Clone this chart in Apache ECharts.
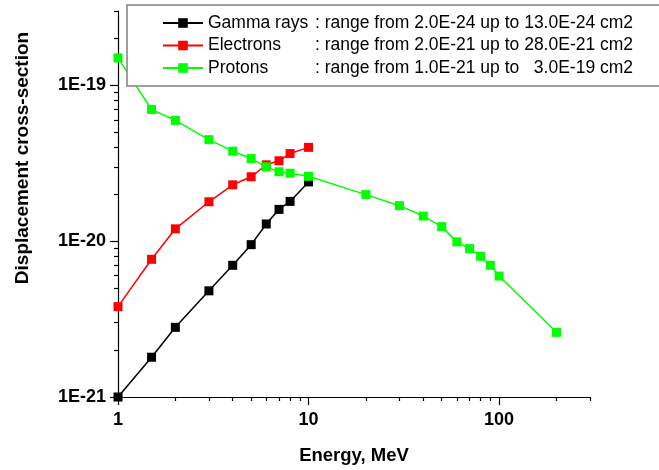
<!DOCTYPE html>
<html><head><meta charset="utf-8">
<script src="https://cdn.jsdelivr.net/npm/echarts@6/dist/echarts.min.js"></script>
<style>html,body{margin:0;padding:0;background:#fff}#c{width:659px;height:470px}</style>
</head><body><div id="c"></div>
<script>
// Data (energy in MeV, cross-section in cm2)
const energyGamma = [1, 1.5, 2, 3, 4, 5, 6, 7, 8, 10];
const gammaRays = [1.0e-21, 1.8e-21, 2.8e-21, 4.8e-21, 7.0e-21, 9.5e-21, 1.29e-20, 1.6e-20, 1.8e-20, 2.4e-20];
const energyElectrons = [1, 1.5, 2, 3, 4, 5, 6, 7, 8, 10];
const electrons = [3.8e-21, 7.65e-21, 1.2e-20, 1.79e-20, 2.3e-20, 2.59e-20, 3.09e-20, 3.28e-20, 3.65e-20, 4.0e-20];
const energyProtons = [1, 1.5, 2, 3, 4, 5, 6, 7, 8, 10, 20, 30, 40, 50, 60, 70, 80, 90, 100, 200];
const protons = [1.5e-19, 7.0e-20, 5.96e-20, 4.48e-20, 3.78e-20, 3.39e-20, 3.0e-20, 2.79e-20, 2.73e-20, 2.61e-20, 1.99e-20, 1.69e-20, 1.45e-20, 1.24e-20, 9.9e-21, 8.96e-21, 8.0e-21, 7.0e-21, 5.97e-21, 2.6e-21];
const seriesNames = ['Gamma rays', 'Electrons', 'Protons'];
const legendRanges = [': range from 2.0E-24 up to 13.0E-24 cm2', ': range from 2.0E-21 up to 28.0E-21 cm2', ': range from 1.0E-21 up to   3.0E-19 cm2'];
const xMajorTicks = [1, 10, 100];
const xMinorTicks = [2, 3, 4, 5, 6, 7, 8, 9, 20, 30, 40, 50, 60, 70, 80, 90, 200, 300];
const yMajorTicks = [1e-21, 1e-20, 1e-19];
const yMinorTicks = [2e-21, 3e-21, 4e-21, 5e-21, 6e-21, 7e-21, 8e-21, 9e-21, 2e-20, 3e-20, 4e-20, 5e-20, 6e-20, 7e-20, 8e-20, 9e-20, 2e-19, 3e-19];
const xRange = [1, 300];
const yRange = [1e-21, 3e-19];

// y values are handed to the axis in units of 1E-21 cm2 (avoids float precision limits)
const Y_UNIT = 1e-21;
const toU = v => v / Y_UNIT;
const pairs = (xs, ys) => xs.map((x, i) => [x, toU(ys[i])]);

const FONT = "'Liberation Sans', Arial, sans-serif";
const colors = ['#000000', '#ff0000', '#00ff00'];
const datasets = [pairs(energyGamma, gammaRays), pairs(energyElectrons, electrons), pairs(energyProtons, protons)];

const chart = echarts.init(document.getElementById('c'), null, {renderer: 'canvas'});
const baseX = {type: 'log', logBase: 10, min: xRange[0], max: xRange[1], gridIndex: 0, position: 'bottom', splitLine: {show: false}, minorTick: {show: false}};
const baseY = {type: 'log', logBase: 10, min: toU(yRange[0]), max: toU(yRange[1]), gridIndex: 0, position: 'left', splitLine: {show: false}, minorTick: {show: false}};
chart.setOption({
  animation: false,
  backgroundColor: '#ffffff',
  grid: {left: 118, right: 69, top: 11, bottom: 71, containLabel: false},
  xAxis: [
    Object.assign({}, baseX, {
      name: 'Energy, MeV', nameLocation: 'middle', nameGap: 49,
      nameTextStyle: {fontFamily: FONT, fontWeight: 'bold', fontSize: 18.5, color: '#000'},
      axisLine: {show: true, lineStyle: {color: '#000', width: 1.2}},
      axisTick: {show: true, inside: false, length: 8, customValues: xMajorTicks, lineStyle: {color: '#000', width: 1.2}},
      axisLabel: {show: true, customValues: xMajorTicks, margin: 14, fontFamily: FONT, fontWeight: 'bold', fontSize: 18, color: '#000',
        formatter: v => String(Math.round(v))}
    }),
    Object.assign({}, baseX, {
      axisLine: {show: false},
      axisTick: {show: true, inside: false, length: 4, customValues: xMinorTicks, lineStyle: {color: '#000', width: 1.2}},
      axisLabel: {show: false}
    })
  ],
  yAxis: [
    Object.assign({}, baseY, {
      name: 'Displacement cross-section', nameLocation: 'middle', nameGap: 86, nameRotate: 90,
      nameTextStyle: {fontFamily: FONT, fontWeight: 'bold', fontSize: 19, color: '#000', padding: [0, 0, 0, 92]},
      axisLine: {show: true, lineStyle: {color: '#000', width: 1.2}},
      axisTick: {show: true, inside: false, length: 8, customValues: yMajorTicks.map(toU), lineStyle: {color: '#000', width: 1.2}},
      axisLabel: {show: true, customValues: yMajorTicks.map(toU), margin: 12, fontFamily: FONT, fontWeight: 'bold', fontSize: 18, color: '#000',
        formatter: v => '1E' + (Math.round(Math.log10(v * Y_UNIT)))}
    }),
    Object.assign({}, baseY, {
      axisLine: {show: false},
      axisTick: {show: true, inside: false, length: 4, customValues: yMinorTicks.map(toU), lineStyle: {color: '#000', width: 1.2}},
      axisLabel: {show: false}
    })
  ],
  legend: {
    show: true, orient: 'vertical', left: 127, top: 5, z: 20,
    padding: [8, 26, 8, 35], itemGap: 2.5, itemWidth: 40, itemHeight: 12,
    backgroundColor: '#ffffff', borderColor: '#808080', borderWidth: 1.5, borderRadius: 0,
    data: seriesNames,
    formatter: name => '{n|' + name + '}{r|' + legendRanges[seriesNames.indexOf(name)] + '}',
    textStyle: {fontFamily: FONT, fontSize: 17.5, color: '#000', lineHeight: 20,
      rich: {
        n: {width: 107, fontFamily: FONT, fontSize: 17.5, color: '#000', lineHeight: 20},
        r: {width: 319, fontFamily: FONT, fontSize: 17.5, color: '#000', lineHeight: 20}
      }
    }
  },
  series: seriesNames.map((nm, i) => ({
    name: nm, type: 'line', xAxisIndex: 0, yAxisIndex: 0,
    data: datasets[i], symbol: 'rect', symbolSize: 9, showSymbol: true,
    lineStyle: {color: colors[i], width: 1.5}, itemStyle: {color: colors[i]},
    clip: false, z: 2
  }))
});
</script></body></html>
